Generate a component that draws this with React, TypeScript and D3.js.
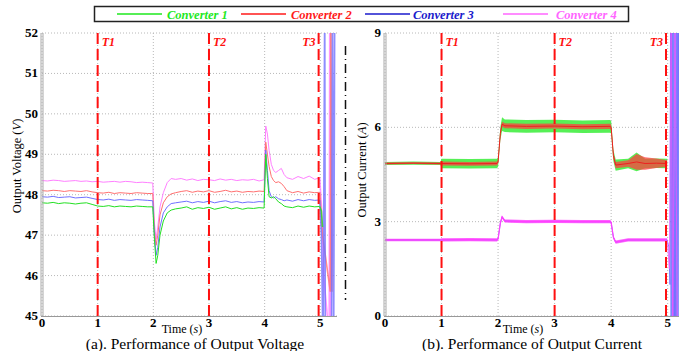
import React from "react";
import * as d3 from "d3";

// ---------------- DATA ----------------
const seriesNames = ["Converter 1", "Converter 2", "Converter 3", "Converter 4"];
const voltTicks = [45, 46, 47, 48, 49, 50, 51, 52];
const currTicks = [0, 3, 6, 9];
const timeTicks = [0, 1, 2, 3, 4, 5];
const eventTimes = [1, 3, 4.97];
const eventLabels = ["T1", "T2", "T3"];

const voltT = [
  0, 0.1, 0.2, 0.3, 0.4, 0.5, 0.6, 0.7, 0.8, 0.9, 1.0, 1.1, 1.2, 1.3, 1.4, 1.5, 1.6, 1.7, 1.8, 1.9, 1.99,
  2.02, 2.05, 2.08, 2.12, 2.18, 2.25, 2.32, 2.4,
  2.5, 2.6, 2.7, 2.8, 2.9, 3.0, 3.1, 3.2, 3.3, 3.4, 3.5, 3.6, 3.7, 3.8, 3.9, 3.99,
  4.02, 4.05, 4.08, 4.12, 4.16, 4.2, 4.25, 4.3, 4.35, 4.4, 4.5, 4.6, 4.7, 4.8, 4.9, 4.99,
];
const voltC1 = [
  47.8, 47.79, 47.81, 47.78, 47.8, 47.79, 47.77, 47.79, 47.8, 47.76, 47.72, 47.71, 47.73, 47.7, 47.72, 47.71, 47.7, 47.72, 47.71, 47.7, 47.7,
  46.9, 46.3, 46.5, 47.0, 47.35, 47.55, 47.62, 47.65,
  47.67, 47.7, 47.64, 47.68, 47.66, 47.69, 47.64, 47.67, 47.7, 47.65, 47.68, 47.64, 47.67, 47.66, 47.68, 47.67,
  49.0, 48.4, 47.95, 47.92, 47.95, 47.9, 47.82, 47.78, 47.72, 47.7, 47.68, 47.72, 47.69, 47.72, 47.7, 47.71,
];
const voltC2 = [
  48.1, 48.09, 48.11, 48.1, 48.08, 48.1, 48.09, 48.08, 48.1, 48.07, 48.05, 48.04, 48.06, 48.03, 48.05, 48.04, 48.03, 48.05, 48.04, 48.03, 48.03,
  47.1, 46.75, 47.0, 47.5, 47.8, 47.95, 48.02, 48.05,
  48.08, 48.1, 48.06, 48.09, 48.07, 48.1, 48.06, 48.08, 48.11, 48.07, 48.09, 48.06, 48.08, 48.07, 48.09, 48.08,
  49.3, 49.0, 48.7, 48.45, 48.35, 48.3, 48.32, 48.28, 48.2, 48.1, 48.05, 48.08, 48.04, 48.07, 48.05, 48.06,
];
const voltC3 = [
  47.95, 47.94, 47.96, 47.93, 47.94, 47.95, 47.92, 47.93, 47.94, 47.91, 47.88, 47.87, 47.89, 47.86, 47.88, 47.87, 47.86, 47.88, 47.87, 47.86, 47.85,
  47.0, 46.5, 46.7, 47.2, 47.55, 47.7, 47.78, 47.8,
  47.82, 47.84, 47.8, 47.83, 47.81, 47.84, 47.8, 47.83, 47.85, 47.81, 47.83, 47.8, 47.82, 47.81, 47.83, 47.82,
  49.1, 48.6, 48.1, 47.95, 47.92, 47.95, 47.9, 47.88, 47.85, 47.87, 47.84, 47.88, 47.85, 47.88, 47.86, 47.87,
];
const voltC4 = [
  48.35, 48.34, 48.36, 48.35, 48.33, 48.34, 48.35, 48.33, 48.34, 48.32, 48.33, 48.31, 48.32, 48.33, 48.31, 48.33, 48.32, 48.3, 48.31, 48.3, 48.29,
  47.3, 46.9, 47.2, 47.7, 48.05, 48.3, 48.4, 48.38,
  48.4, 48.36, 48.39, 48.35, 48.38, 48.37, 48.35, 48.39, 48.36, 48.38, 48.35, 48.37, 48.36, 48.38, 48.34, 48.37,
  49.7, 49.5, 49.1, 48.75, 48.6, 48.55, 48.6, 48.65, 48.5, 48.42, 48.38, 48.45, 48.4, 48.46, 48.38, 48.42,
];
// unstable region after T3 (voltage)
const voltChaosC1T = [4.99, 5.02, 5.04];
const voltChaosC1 = [47.71, 47.6, 47.2];
const voltChaosC2T = [4.99, 5.04, 5.18, 5.19, 5.21];
const voltChaosC2 = [48.06, 47.0, 45.6, 53, 45.6];
const voltChaosC3T = [4.99, 5.02, 5.05, 5.08, 5.09, 5.2, 5.22, 5.24, 5.26];
const voltChaosC3 = [47.87, 47.0, 44, 53, 44, 44, 53, 44, 53];
const voltChaosC4T = [4.99, 5.03, 5.06, 5.16, 5.17, 5.19];
const voltChaosC4 = [48.42, 47.5, 46, 44.5, 53, 44.5];

const currT = [0, 0.5, 0.98, 1.0, 1.5, 1.98, 2.0, 2.04, 2.07, 2.12, 2.5, 3.0, 3.5, 3.98, 4.0, 4.04, 4.08, 4.3, 4.45, 4.6, 4.8, 4.99];
const currC12 = [4.85, 4.86, 4.85, 4.85, 4.84, 4.85, 4.9, 5.8, 6.1, 6.05, 6.03, 6.04, 6.02, 6.03, 6.0, 5.1, 4.8, 4.85, 4.9, 4.85, 4.86, 4.85];
const currC1Noise = [0.05, 0.05, 0.05, 0.15, 0.15, 0.15, 0.15, 0.2, 0.22, 0.2, 0.2, 0.2, 0.2, 0.2, 0.2, 0.18, 0.18, 0.15, 0.3, 0.15, 0.15, 0.15];
const currC2Noise = [0.03, 0.03, 0.03, 0.06, 0.06, 0.06, 0.06, 0.08, 0.08, 0.08, 0.08, 0.08, 0.08, 0.08, 0.08, 0.1, 0.1, 0.1, 0.25, 0.2, 0.15, 0.1];
const currC34 = [2.42, 2.42, 2.42, 2.42, 2.43, 2.42, 2.45, 2.95, 3.15, 3.02, 3.0, 3.01, 3.0, 3.0, 2.98, 2.5, 2.35, 2.42, 2.42, 2.42, 2.42, 2.42];
const currC34Noise = [0.04, 0.04, 0.04, 0.05, 0.05, 0.05, 0.05, 0.05, 0.05, 0.05, 0.05, 0.05, 0.05, 0.05, 0.05, 0.05, 0.05, 0.05, 0.05, 0.05, 0.05, 0.05];
// unstable region after T3 (current)
const currChaosC3T = [4.99, 5.02, 5.04, 5.05, 5.06, 5.07, 5.08, 5.09, 5.1, 5.11, 5.12, 5.13, 5.14, 5.15, 5.16, 5.17, 5.18, 5.19, 5.2];
const currChaosC3 = [2.42, 2.2, 1.0, 9.5, -0.5, 9.5, -0.5, 9.5, -0.5, 9.5, -0.5, 9.5, -0.5, 9.5, -0.5, 9.5, -0.5, 9.5, -0.5];
const currChaosC4T = [4.99, 5.03, 5.06, 5.09, 5.13, 5.17];
const currChaosC4 = [2.42, 1.5, 9.5, -0.5, 9.5, -0.5];

// ---------------- STYLE ----------------
const COLORS = ["#1ee81e", "#ff1a1a", "#1a1acc", "#ff66ff"];
const LINE_COLORS_V = ["#22e022", "#ff7070", "#7070ff", "#ff80ff"];
const FONT = "Liberation Serif, Times New Roman, Times, serif";

type P = [number, number];
const zip = (t: number[], v: number[]): P[] => t.map((x, i) => [x, v[i]]);

function Panel(props: {
  id: string;
  x: d3.ScaleLinear<number, number>;
  y: d3.ScaleLinear<number, number>;
  yTicks: number[];
  yLabel: string;
  yUnit: string;
  yLabelX: number;
  yLabelY: number;
  timeX: number;
  caption: string;
  captionX: number;
  children: React.ReactNode;
}) {
  const { id, x, y, yTicks } = props;
  const [x0, x1] = x.range();
  const [y0, y1] = y.range();
  return (
    <g>
      <defs>
        <clipPath id={id}>
          <rect x={x0} y={y1} width={x1 - x0} height={y0 - y1} />
        </clipPath>
      </defs>
      {timeTicks.map((t) => (
        <line key={"gx" + t} x1={x(t)} x2={x(t)} y1={y1} y2={y0} stroke="#b8b8b8" strokeWidth={1} strokeDasharray="1,2" />
      ))}
      {yTicks.map((v) => (
        <line key={"gy" + v} x1={x0} x2={x1} y1={y(v)} y2={y(v)} stroke="#b8b8b8" strokeWidth={1} strokeDasharray="1,2" />
      ))}
      <g clipPath={`url(#${id})`}>{props.children}</g>
      {eventTimes.map((t, i) => (
        <g key={"ev" + i}>
          <line x1={x(t)} x2={x(t)} y1={y1} y2={y0} stroke="#ff1010" strokeWidth={2} strokeDasharray="11,5" />
          <text
            x={i === 2 ? x(t) - 3 : x(t) + 4}
            y={y1 + 13}
            textAnchor={i === 2 ? "end" : "start"}
            fill="#ff1010"
            style={{ fontFamily: FONT, fontWeight: "bold", fontStyle: "italic", fontSize: 12 }}
          >
            {eventLabels[i]}
          </text>
        </g>
      ))}
      <line x1={x0 - 1} x2={x0 - 1} y1={y1} y2={y0} stroke="#aaa" strokeWidth={1} />
      <line x1={x0 + 1} x2={x0 + 1} y1={y1} y2={y0} stroke="#aaa" strokeWidth={1} />
      <line x1={x0 - 1} x2={x1} y1={y0 + 0.5} y2={y0 + 0.5} stroke="#999" strokeWidth={1} />
      {yTicks.map((v) => (
        <text key={"yt" + v} x={x0 - 4} y={y(v) + 4} textAnchor="end" fill="#000"
          style={{ fontFamily: FONT, fontWeight: "bold", fontSize: 13 }}>
          {v}
        </text>
      ))}
      {timeTicks.map((t) => (
        <text key={"xt" + t} x={x(t)} y={y0 + 11} textAnchor="middle" fill="#000"
          style={{ fontFamily: FONT, fontWeight: "bold", fontSize: 13 }}>
          {t}
        </text>
      ))}
      <text
        transform={`translate(${props.yLabelX},${props.yLabelY}) rotate(-90)`}
        textAnchor="middle"
        fill="#000"
        style={{ fontFamily: FONT, fontSize: 12.5 }}
      >
        {props.yLabel} (<tspan fontStyle="italic">{props.yUnit}</tspan>)
      </text>
      <text x={props.timeX} y={y0 + 17} textAnchor="middle" fill="#000" style={{ fontFamily: FONT, fontSize: 12 }}>
        Time (<tspan fontStyle="italic">s</tspan>)
      </text>
      <text x={props.captionX} y={348.5} textAnchor="middle" fill="#000" style={{ fontFamily: FONT, fontSize: 15.5 }}>
        {props.caption}
      </text>
    </g>
  );
}

export default function App() {
  const xv = d3.scaleLinear().domain([0, 5.3]).range([42, 337]);
  const yv = d3.scaleLinear().domain([45, 52]).range([316, 33]);
  const xc = d3.scaleLinear().domain([0, 5.2]).range([385, 679]);
  const yc = d3.scaleLinear().domain([0, 9]).range([316, 33]);

  const lineV = d3.line<P>().x((d) => xv(d[0])).y((d) => yv(d[1]));
  const lineC = d3.line<P>().x((d) => xc(d[0])).y((d) => yc(d[1]));
  const areaC = (t: number[], m: number[], n: number[]) =>
    d3
      .area<number>()
      .x((i) => xc(t[i]))
      .y0((i) => yc(m[i] - n[i]))
      .y1((i) => yc(m[i] + n[i]))(t.map((_, i) => i)) || "";

  const voltSeries = [
    { main: zip(voltT, voltC1), chaos: zip(voltChaosC1T, voltChaosC1) },
    { main: zip(voltT, voltC2), chaos: zip(voltChaosC2T, voltChaosC2) },
    { main: zip(voltT, voltC3), chaos: zip(voltChaosC3T, voltChaosC3) },
    { main: zip(voltT, voltC4), chaos: zip(voltChaosC4T, voltChaosC4) },
  ];
  const drawOrder = [3, 1, 2, 0];

  const legendItems = [
    { lx: 117, tx: 167 },
    { lx: 241, tx: 291 },
    { lx: 365, tx: 413 },
    { lx: 503, tx: 556 },
  ];

  return (
    <svg width={689} height={351} style={{ position: "fixed", left: 0, top: 0, background: "#fff" }}>
      <rect x={0} y={0} width={689} height={351} fill="#fff" />
      <rect x={94.5} y={6.5} width={534} height={15} fill="#fff" stroke="#222" strokeWidth={1.5} />
      {seriesNames.map((s, i) => (
        <g key={s}>
          <line x1={legendItems[i].lx} x2={legendItems[i].lx + 45} y1={14} y2={14} stroke={COLORS[i]} strokeWidth={1.5} />
          <text x={legendItems[i].tx} y={18.5} fill={COLORS[i]}
            style={{ fontFamily: FONT, fontWeight: "bold", fontStyle: "italic", fontSize: 12.5 }}>
            {s}
          </text>
        </g>
      ))}
      <line x1={345.5} x2={345.5} y1={46} y2={300} stroke="#111" strokeWidth={1.5} strokeDasharray="9,4,1,4" />

      <Panel
        id="clipV"
        x={xv}
        y={yv}
        yTicks={voltTicks}
        yLabel="Output Voltage"
        yUnit="V"
        yLabelX={21}
        yLabelY={166}
        timeX={182}
        caption="(a). Performance of Output Voltage"
        captionX={195}
      >
        {drawOrder.map((i) => (
          <g key={"v" + i}>
            <path d={lineV(voltSeries[i].main) || ""} fill="none" stroke={LINE_COLORS_V[i]} strokeWidth={1} />
            <path d={lineV(voltSeries[i].chaos) || ""} fill="none" stroke={LINE_COLORS_V[i]} strokeWidth={1.6} opacity={0.8} />
          </g>
        ))}
      </Panel>

      <Panel
        id="clipC"
        x={xc}
        y={yc}
        yTicks={currTicks}
        yLabel="Output Current"
        yUnit="A"
        yLabelX={366}
        yLabelY={170}
        timeX={523}
        caption="(b). Performance of Output Current"
        captionX={532}
      >
        <path d={areaC(currT, currC34, currC34Noise)} fill="#ff44ff" opacity={0.85} />
        <path d={lineC(zip(currT, currC34)) || ""} fill="none" stroke="#6060ff" strokeWidth={1} opacity={0.6} />
        <path d={lineC(zip(currT, currC34)) || ""} fill="none" stroke="#ff40ff" strokeWidth={1.2} />
        <path d={areaC(currT, currC12, currC1Noise)} fill="#44ee44" opacity={0.9} />
        <path d={areaC(currT, currC12, currC2Noise)} fill="#ff4040" opacity={0.75} />
        <path d={lineC(zip(currT, currC12)) || ""} fill="none" stroke="#ee2020" strokeWidth={1} />
        <path d={lineC(zip(currChaosC3T, currChaosC3)) || ""} fill="none" stroke="#6a6aff" strokeWidth={1} opacity={0.8} />
        <path d={lineC(zip(currChaosC4T, currChaosC4)) || ""} fill="none" stroke="#ff50ff" strokeWidth={1} opacity={0.7} />
      </Panel>
    </svg>
  );
}
